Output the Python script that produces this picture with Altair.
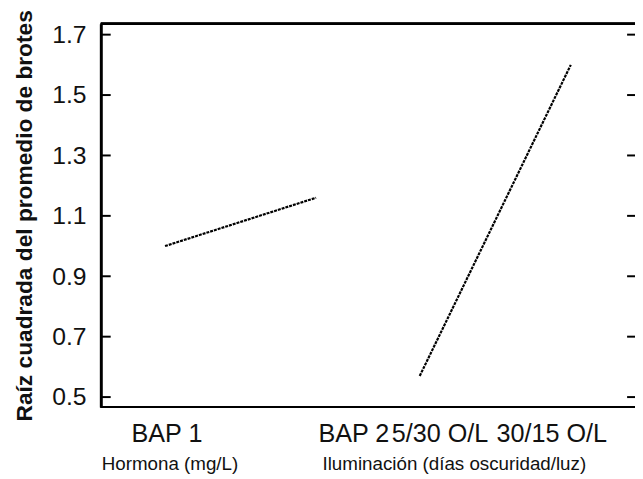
import altair as alt
import pandas as pd

# ---- data ----
factors = ["Hormona (mg/L)", "Hormona (mg/L)",
           "Iluminación (días oscuridad/luz)", "Iluminación (días oscuridad/luz)"]
levels = ["BAP 1", "BAP 2", "5/30 O/L", "30/15 O/L"]
x_pos = [0.425, 1.425, 2.111, 3.111]          # position of each level on the axis
means = [1.00, 1.16, 0.57, 1.60]               # sqrt of mean shoots
label_x = [0.438, 1.675, 2.245, 2.985]         # where each level label sits
factor_names = ["Hormona (mg/L)", "Iluminación (días oscuridad/luz)"]
factor_label_x = [0.458, 2.34]
y_ticks = [0.5, 0.7, 0.9, 1.1, 1.3, 1.5, 1.7]

FONT = "Liberation Sans"
W, H = 541, 388

df = pd.DataFrame({"factor": factors, "level": levels, "x": x_pos, "mean": means,
                   "lx": label_x})
fdf = pd.DataFrame({"factor": factor_names, "fx": factor_label_x})
tdf = pd.DataFrame({"t": y_ticks})

xscale = alt.Scale(domain=[0, W / 153.0], nice=False, zero=False)
yscale = alt.Scale(domain=[0.4675, 1.736], nice=False, zero=False)

lines = alt.Chart(df).mark_line(color="black", strokeWidth=2.2, strokeDash=[3, 1]).encode(
    x=alt.X("x:Q", scale=xscale, axis=None),
    y=alt.Y("mean:Q", scale=yscale,
            axis=alt.Axis(values=y_ticks, format=".1f", ticks=False, grid=False,
                          labelFontSize=25, labelFont=FONT, labelColor="#111",
                          labelPadding=15, domain=True, domainWidth=3,
                          domainColor="black",
                          title="Raíz cuadrada del promedio de brotes",
                          titleFont=FONT, titleFontSize=23, titleFontWeight="bold",
                          titleColor="#111", titleX=-70, titleY=H / 2,
                          titleAlign="center", titleBaseline="alphabetic",
                          titleAngle=270)),
    detail="factor:N",
)

ticks_left = alt.Chart(tdf).mark_rule(color="black", strokeWidth=2).encode(
    y=alt.Y("t:Q", scale=yscale), x=alt.value(0), x2=alt.value(10))
ticks_right = alt.Chart(tdf).mark_rule(color="black", strokeWidth=2).encode(
    y=alt.Y("t:Q", scale=yscale), x=alt.value(W - 8), x2=alt.value(W))

frame_top = alt.Chart(tdf).mark_rule(color="black", strokeWidth=2).encode(
    y=alt.value(0), x=alt.value(0), x2=alt.value(W))
frame_bottom = alt.Chart(tdf).mark_rule(color="black", strokeWidth=2).encode(
    y=alt.value(H), x=alt.value(0), x2=alt.value(W))

level_text = alt.Chart(df).mark_text(font=FONT, fontSize=25.5, color="#111",
                                     align="center", baseline="alphabetic").encode(
    x=alt.X("lx:Q", scale=xscale), y=alt.value(424), text="level:N")

factor_text = alt.Chart(fdf).mark_text(font=FONT, fontSize=19, color="#111",
                                       align="center", baseline="alphabetic").encode(
    x=alt.X("fx:Q", scale=xscale), y=alt.value(452), text="factor:N")

chart = alt.layer(frame_top, frame_bottom, lines, ticks_left, ticks_right,
                  level_text, factor_text).properties(
    width=W, height=H,
    padding={"left": 94, "top": 13, "right": 0, "bottom": 66},
    autosize=alt.AutoSizeParams(type="none"),
).configure_view(strokeWidth=0)

chart.save("out.html", embed_options={"renderer": "svg", "actions": False})
